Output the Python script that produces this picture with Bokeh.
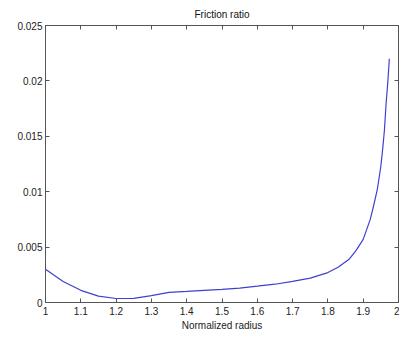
from bokeh.plotting import figure
from bokeh.models import LinearAxis, FixedTicker, Range1d
from bokeh.embed import file_html
from bokeh.resources import INLINE

# Data
radius = [1.00, 1.05, 1.10, 1.15, 1.20, 1.25, 1.30, 1.35, 1.40, 1.45, 1.50, 1.55,
          1.60, 1.65, 1.70, 1.75, 1.80, 1.83, 1.86, 1.88, 1.90, 1.92, 1.93, 1.94,
          1.95, 1.955, 1.96, 1.965, 1.97, 1.974]
friction = [0.0030, 0.0019, 0.0011, 0.00058, 0.00036, 0.00038, 0.00062, 0.00092,
            0.0010, 0.0011, 0.00118, 0.0013, 0.00147, 0.00165, 0.0019, 0.0022,
            0.0027, 0.0032, 0.0039, 0.0047, 0.0057, 0.0075, 0.0088, 0.0102,
            0.0123, 0.0138, 0.0155, 0.0180, 0.0200, 0.0220]

x_ticks = [1, 1.1, 1.2, 1.3, 1.4, 1.5, 1.6, 1.7, 1.8, 1.9, 2]
x_labels = ["1", "1.1", "1.2", "1.3", "1.4", "1.5", "1.6", "1.7", "1.8", "1.9", "2"]
y_ticks = [0, 0.005, 0.01, 0.015, 0.02, 0.025]
y_labels = ["0", "0.005", "0.01", "0.015", "0.02", "0.025"]

FONT = "Liberation Sans"
AX = "#555555"

p = figure(width=399, height=337, output_backend="svg", toolbar_location=None,
           x_range=Range1d(1, 2), y_range=Range1d(0, 0.025),
           min_border_left=45, min_border_right=1, min_border_top=25, min_border_bottom=35)
p.background_fill_color = "white"
p.border_fill_color = "white"
p.outline_line_color = AX
p.grid.visible = False

p.title.text = "Friction ratio"
p.title.align = "center"
p.title.text_font = FONT
p.title.text_font_style = "normal"
p.title.text_font_size = "10px"
p.title.text_color = "#111111"
p.title.offset = 0
p.title.standoff = 12

p.line(radius, friction, line_color="#4040d0", line_width=1.2)

def style(ax):
    ax.axis_line_color = AX
    ax.major_tick_line_color = AX
    ax.major_tick_in = 4
    ax.major_tick_out = 0
    ax.minor_tick_in = 0
    ax.minor_tick_out = 0
    ax.major_label_text_font = FONT
    ax.major_label_text_font_size = "10px"
    ax.major_label_text_color = "#222222"
    ax.axis_label_text_font = FONT
    ax.axis_label_text_font_size = "10px"
    ax.axis_label_text_font_style = "normal"
    ax.axis_label_text_color = "#222222"

xa = p.xaxis[0]
xa.ticker = FixedTicker(ticks=x_ticks)
xa.major_label_overrides = {t: l for t, l in zip(x_ticks, x_labels)}
xa.axis_label = "Normalized radius"
xa.axis_label_standoff = 2
xa.major_label_standoff = 4
style(xa)

ya = p.yaxis[0]
ya.ticker = FixedTicker(ticks=y_ticks)
ya.major_label_overrides = {t: l for t, l in zip(y_ticks, y_labels)}
ya.major_label_standoff = 3
style(ya)

top = LinearAxis(ticker=FixedTicker(ticks=x_ticks))
style(top)
top.major_label_overrides = {t: "" for t in x_ticks}
top.major_label_standoff = 0
p.add_layout(top, "above")
right = LinearAxis(ticker=FixedTicker(ticks=y_ticks))
style(right)
right.major_label_overrides = {t: "" for t in y_ticks}
right.major_label_standoff = 0
p.add_layout(right, "right")

open("out.html", "w").write(file_html(p, INLINE))
